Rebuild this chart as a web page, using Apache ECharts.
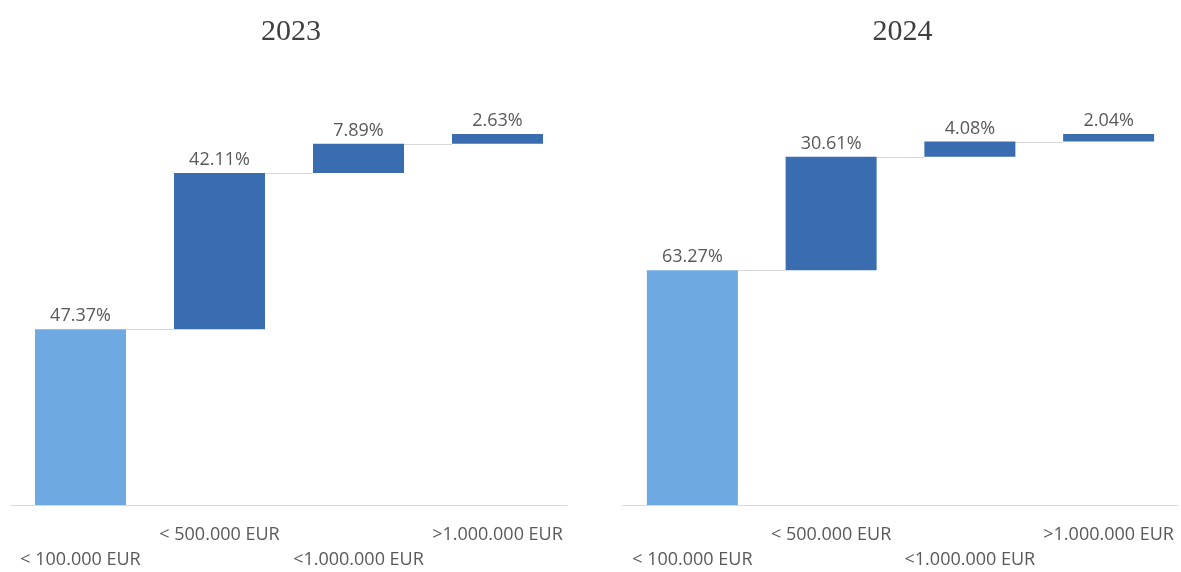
<!DOCTYPE html>
<html>
<head>
<meta charset="utf-8">
<script src="https://cdn.jsdelivr.net/npm/echarts@6/dist/echarts.min.js"></script>
<style>
  html, body { margin: 0; padding: 0; background: #ffffff; }
  #chart { width: 1181px; height: 572px; }
</style>
</head>
<body>
<div id="chart"></div>
<script>
// Turnover brackets shown on the x axis of both panels
const categories = ['< 100.000 EUR', '< 500.000 EUR', '<1.000.000 EUR', '>1.000.000 EUR'];
// Share of each bracket, in percent
const values2023 = [47.37, 42.11, 7.89, 2.63];
const values2024 = [63.27, 30.61, 4.08, 2.04];
const panelTitles = ['2023', '2024'];

const LIGHT = '#6fa9e1';
const DARK = '#3a6cb0';
const BAR_W = 91;

// Running totals: where each step of the waterfall starts
function starts(vals) {
  const out = [];
  let acc = 0;
  for (const v of vals) { out.push(acc); acc += v; }
  return out;
}

const panels = [
  { vals: values2023, left: 11, width: 556 },
  { vals: values2024, left: 623, width: 555 }
];

const grids = [], xAxes = [], yAxes = [], series = [], titles = [];

panels.forEach((p, k) => {
  const base = starts(p.vals);
  grids.push({ left: p.left, width: p.width, top: 134, bottom: 65, containLabel: false });
  titles.push({
    text: panelTitles[k],
    left: p.left + p.width / 2 - 3,
    top: 12,
    textAlign: 'center',
    textStyle: { fontFamily: 'Liberation Serif', fontSize: 30, fontWeight: 'normal', color: '#404040' }
  });
  xAxes.push({
    type: 'category',
    gridIndex: k,
    data: categories,
    axisLine: { lineStyle: { color: '#d9d9d9', width: 1 } },
    axisTick: { show: false },
    axisLabel: {
      interval: 0,
      hideOverlap: false,
      margin: 17,
      lineHeight: 25,
      fontFamily: 'Open Sans',
      fontSize: 18,
      color: '#595959',
      // staggered labels: first and third bracket sit one line lower
      formatter: (v, i) => (i % 2 === 0 ? '\n' + v : v)
    }
  });
  yAxes.push({ type: 'value', gridIndex: k, min: 0, max: 100, show: false, splitLine: { show: false } });

  // invisible lift under each step
  series.push({
    type: 'bar', xAxisIndex: k, yAxisIndex: k, stack: 'wf' + k,
    barWidth: BAR_W, silent: true,
    itemStyle: { color: 'transparent' },
    data: base
  });
  // visible step
  series.push({
    type: 'bar', xAxisIndex: k, yAxisIndex: k, stack: 'wf' + k,
    barWidth: BAR_W,
    data: p.vals.map((v, i) => ({ value: v, itemStyle: { color: i === 0 ? LIGHT : DARK } })),
    label: {
      show: true, position: 'top', distance: 4,
      fontFamily: 'Open Sans', fontSize: 18, color: '#595959',
      formatter: (d) => d.value.toFixed(2) + '%'
    }
  });
  // connectors between consecutive steps
  series.push({
    type: 'custom', xAxisIndex: k, yAxisIndex: k, silent: true, z: 1,
    data: p.vals.slice(0, -1).map((v, i) => [i, base[i] + v]),
    renderItem: (params, api) => {
      const i = api.value(0), lvl = api.value(1);
      const a = api.coord([i, lvl]);
      const b = api.coord([i + 1, lvl]);
      const y = Math.round(a[1]) + 0.5;
      return {
        type: 'line',
        shape: { x1: a[0] + BAR_W / 2, y1: y, x2: b[0] - BAR_W / 2, y2: y },
        style: { stroke: '#d9d9d9', lineWidth: 1 }
      };
    }
  });
});

const chart = echarts.init(document.getElementById('chart'), null, { renderer: 'canvas' });
chart.setOption({
  animation: false,
  backgroundColor: '#ffffff',
  title: titles,
  grid: grids,
  xAxis: xAxes,
  yAxis: yAxes,
  series: series
});
</script>
</body>
</html>
